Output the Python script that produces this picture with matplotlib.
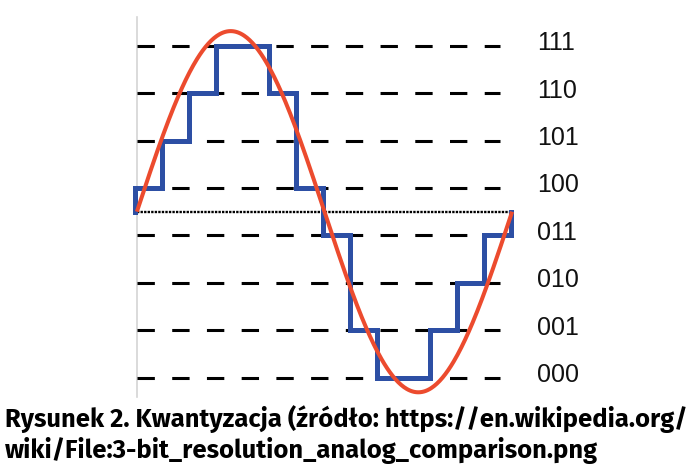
import numpy as np
import matplotlib
matplotlib.use("Agg")
import matplotlib.pyplot as plt

# quantisation levels (3-bit codes) and the sampled staircase
codes = ["000", "001", "010", "011", "100", "101", "110", "111"]
sample_levels = [4, 5, 6, 7, 7, 6, 4, 3, 1, 0, 0, 1, 2, 3]
mid_level = 3.5

# analog signal: one period of a sine around the mid level
sine_amplitude = 3.81
sine_start, sine_end = 0.07, 14.04

caption = ("Rysunek 2. Kwantyzacja (źródło: https://en.wikipedia.org/\n"
           "wiki/File:3-bit_resolution_analog_comparison.png")

W, H = 687, 471
fig = plt.figure(figsize=(W / 100, H / 100), dpi=100)
ax = fig.add_axes([0, 0, 1, 1])
ax.set_axis_off()

# pixel layout: x_px = 135 + 26.86*t, y_px = 377.6 - 47.4*level
x0, sx = 135.0, 26.86
y0, sy = 377.6, 47.4
ax.set_xlim(-x0 / sx, (W - x0) / sx)
ax.set_ylim((y0 - H) / sy, y0 / sy)

# light grey vertical axis
ax.plot([0.07, 0.07], [(y0 - 397) / sy, (y0 - 17) / sy], color="#d4d4d4", lw=1.2, zorder=1)

# dashed level lines
for lvl in range(len(codes)):
    ax.plot([0.07, 13.6], [lvl, lvl], color="black", lw=2.2,
            dashes=(12.5 / 2.2, 12.5 / 2.2), dash_capstyle="butt", zorder=2)

# dotted mid line
ax.plot([0.07, 14.0], [mid_level, mid_level], color="black", lw=1.7,
        linestyle=(0, (1.0, 0.5)), zorder=2)

# staircase
edges = np.arange(len(sample_levels) + 1)
xs = np.repeat(edges, 2)
ys = np.concatenate([[mid_level], np.repeat(sample_levels, 2), [mid_level]])
ax.plot(xs, ys, color="#2d4fa4", lw=3.6, solid_joinstyle="miter", zorder=3)

# analog sine
t = np.linspace(sine_start, sine_end, 400)
ax.plot(t, mid_level + sine_amplitude * np.sin(2 * np.pi * (t - sine_start) / (sine_end - sine_start)),
        color="#ec4b2e", lw=2.9, solid_capstyle="butt", zorder=4)

# code labels
for lvl, code in enumerate(codes):
    ax.text((537 - x0) / sx, lvl + 2.5 / sy, code, fontsize=18, family="Liberation Sans",
            ha="left", va="center", color="#111111")

lines = caption.split("\n")
fig.text(5 / W, 1 - 427 / H, lines[0], fontsize=18.4,
         family="Fira Sans", weight="bold", va="baseline", ha="left")
fig.text(5 / W, 1 - 458 / H, lines[1], fontsize=18.4,
         family="Fira Sans", weight="bold", va="baseline", ha="left")

fig.savefig("out.png", dpi=100)
